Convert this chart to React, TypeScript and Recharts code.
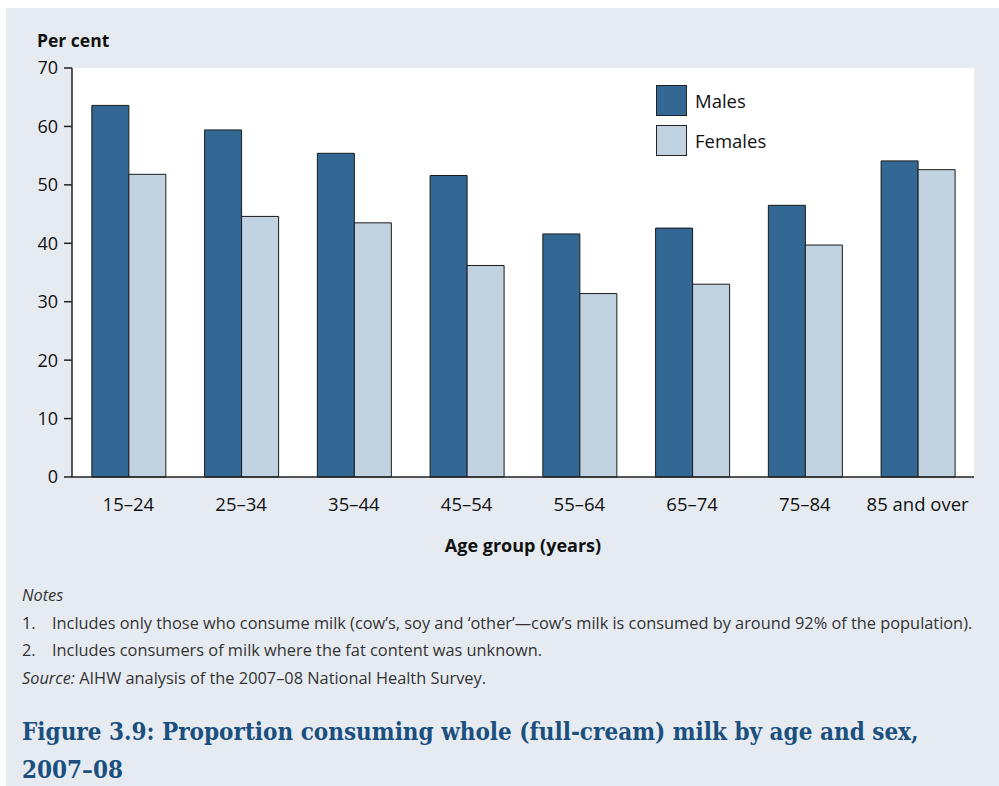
import React from 'react';
import { BarChart, Bar, XAxis, YAxis, CartesianGrid, Label } from 'recharts';

// Age groups and per cent consuming whole milk
const ageGroups = ['15–24', '25–34', '35–44', '45–54', '55–64', '65–74', '75–84', '85 and over'];
const males = [63.6, 59.4, 55.4, 51.6, 41.6, 42.6, 46.5, 54.1];
const females = [51.8, 44.6, 43.5, 36.2, 31.4, 33.0, 39.7, 52.6];
const yTicks = [0, 10, 20, 30, 40, 50, 60, 70];

const data = ageGroups.map((age, i) => ({ age, males: males[i], females: females[i] }));

const MALE_COLOR = '#336894';
const FEMALE_COLOR = '#c1d3e0';
const PANEL_BG = '#e6ebf2';
const FONT = "'Open Sans', 'Noto Sans', sans-serif";

const legendItems = [
  { label: 'Males', color: MALE_COLOR },
  { label: 'Females', color: FEMALE_COLOR },
];

const LegendBox = () => (
  <div style={{ position: 'absolute', left: 656, top: 80 }}>
    {legendItems.map((p) => (
      <div key={p.label} style={{ display: 'flex', alignItems: 'center', height: 40 }}>
        <div
          style={{
            width: 31,
            height: 31,
            background: p.color,
            border: '1px solid #222',
            boxSizing: 'border-box',
            marginRight: 8,
          }}
        />
        <span style={{ fontSize: 18.5, color: '#111' }}>{p.label}</span>
      </div>
    ))}
  </div>
);

export default function App() {
  return (
    <div style={{ position: 'absolute', left: 0, top: 0, width: 999, height: 786, background: '#fff', fontFamily: FONT }}>
      <div style={{ position: 'absolute', left: 6, top: 8, width: 993, height: 778, background: PANEL_BG }} />

      <div style={{ position: 'absolute', left: 37, top: 28, fontSize: 17.5, fontWeight: 700, color: '#111' }}>
        Per cent
      </div>

      <div style={{ position: 'absolute', left: 0, top: 0 }}>
        <BarChart
          width={999}
          height={580}
          data={data}
          margin={{ top: 68, right: 25, left: 0, bottom: 23 }}
          barCategoryGap="17.6%"
          barGap={0}
        >
          <CartesianGrid fill="#ffffff" stroke="none" horizontal={false} vertical={false} />
          <XAxis
            dataKey="age"
            height={80}
            tickLine={false}
            tickMargin={15}
            axisLine={{ stroke: '#222', strokeWidth: 1.5 }}
            tick={{ fill: '#111', fontSize: 18.5, fontFamily: FONT }}
            interval={0}
          >
            <Label
              value="Age group (years)"
              position="insideBottom"
              offset={5}
              style={{ fill: '#111', fontSize: 18, fontWeight: 700, fontFamily: FONT }}
            />
          </XAxis>
          <YAxis
            width={72}
            domain={[0, 70]}
            ticks={yTicks}
            tickSize={8}
            tickMargin={6}
            axisLine={{ stroke: '#222', strokeWidth: 1.5 }}
            tickLine={{ stroke: '#222', strokeWidth: 1.5 }}
            tick={{ fill: '#111', fontSize: 18, fontFamily: FONT }}
          />
          <Bar dataKey="males" name="Males" fill={MALE_COLOR} stroke="#1a1a1a" strokeWidth={1} isAnimationActive={false} />
          <Bar dataKey="females" name="Females" fill={FEMALE_COLOR} stroke="#1a1a1a" strokeWidth={1} isAnimationActive={false} />
        </BarChart>
      </div>

      <LegendBox />

      <div style={{ position: 'absolute', left: 22, top: 582, fontSize: 16.35, color: '#333', lineHeight: '27.5px', width: 975 }}>
        <div style={{ fontStyle: 'italic' }}>Notes</div>
        <div style={{ display: 'flex' }}>
          <span style={{ width: 30 }}>1.</span>
          <span style={{ whiteSpace: 'nowrap' }}>Includes only those who consume milk (cow’s, soy and ‘other’—cow’s milk is consumed by around 92% of the population).</span>
        </div>
        <div style={{ display: 'flex' }}>
          <span style={{ width: 30 }}>2.</span>
          <span>Includes consumers of milk where the fat content was unknown.</span>
        </div>
        <div>
          <span style={{ fontStyle: 'italic' }}>Source:</span> AIHW analysis of the 2007–08 National Health Survey.
        </div>
      </div>

      <div
        style={{
          position: 'absolute',
          left: 22,
          top: 713,
          width: 970,
          fontFamily: "'DejaVu Serif Condensed', 'DejaVu Serif', serif",
          fontStretch: 'condensed',
          fontWeight: 700,
          fontSize: 24,
          lineHeight: '38px',
          color: '#1b4f7e',
        }}
      >
        Figure 3.9: Proportion consuming whole (full-cream) milk by age and sex,
        <br />
        2007–08
      </div>
    </div>
  );
}
